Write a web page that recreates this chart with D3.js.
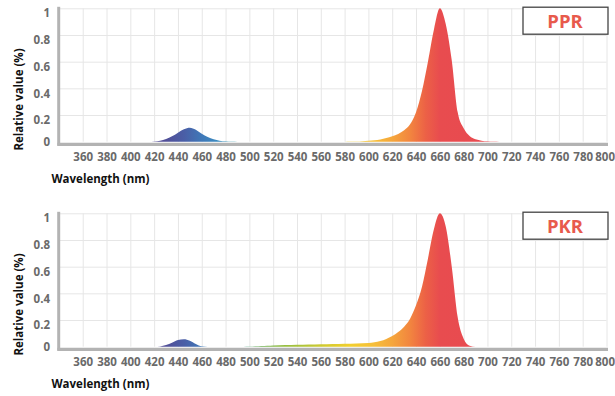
<!DOCTYPE html>
<html>
<head>
<meta charset="utf-8">
<script src="https://cdn.jsdelivr.net/npm/d3@7"></script>
<style>
  body { margin: 0; background: #fff; }
  svg { display: block; font-family: "Open Sans", sans-serif; }
</style>
</head>
<body>
<div id="chart"></div>
<script>
// wavelength ticks and relative value ticks
var xTicks = [360, 380, 400, 420, 440, 460, 480, 500, 520, 540, 560, 580, 600, 620, 640, 660, 680, 700, 720, 740, 760, 780, 800];
var yTicks = [0, 0.2, 0.4, 0.6, 0.8, 1];

// PPR spectrum (nm, relative value)
var pprWave  = [340, 415, 420, 425, 430, 435, 440, 445, 450, 455, 460, 465, 470, 475, 480, 485, 490, 580, 585, 590, 595, 600, 605, 610, 615, 620, 625, 630, 635, 640, 645, 650, 655, 660, 665, 670, 675, 680, 685, 690, 695, 700, 705, 710, 800];
var pprValue = [0, 0, 0.002, 0.008, 0.02, 0.04, 0.068, 0.094, 0.105, 0.09, 0.06, 0.035, 0.018, 0.008, 0.003, 0.001, 0, 0, 0.001, 0.002, 0.004, 0.007, 0.011, 0.017, 0.027, 0.04, 0.058, 0.085, 0.13, 0.22, 0.38, 0.6, 0.84, 1.0, 0.88, 0.61, 0.22, 0.1, 0.042, 0.018, 0.008, 0.003, 0.001, 0, 0];

// PKR spectrum (nm, relative value)
var pkrWave  = [340, 420, 425, 430, 435, 440, 445, 450, 455, 460, 465, 495, 500, 505, 510, 515, 520, 530, 540, 550, 560, 570, 580, 590, 600, 605, 610, 615, 620, 625, 630, 635, 640, 645, 650, 655, 660, 665, 670, 675, 680, 685, 690, 800];
var pkrValue = [0, 0, 0.002, 0.012, 0.03, 0.05, 0.056, 0.045, 0.02, 0.003, 0, 0, 0.001, 0.003, 0.005, 0.007, 0.009, 0.012, 0.014, 0.016, 0.018, 0.02, 0.022, 0.024, 0.028, 0.033, 0.042, 0.058, 0.08, 0.11, 0.15, 0.21, 0.31, 0.45, 0.66, 0.88, 1.0, 0.9, 0.6, 0.22, 0.06, 0.008, 0, 0];

// spectrum colours along the wavelength axis
var stopWave  = [400, 430, 445, 460, 475, 490, 505, 525, 545, 565, 585, 605, 620, 635, 648, 660, 700];
var stopColor = ["#5b4a92", "#514f98", "#4a5ea6", "#3f78b8", "#3a8cc0", "#3d9fa8", "#6aae62", "#8fbc45", "#b0c43a", "#d6cb30", "#f2cf2e", "#f6be3a", "#f5a63c", "#f2853f", "#ec6146", "#e84c4f", "#e84a50"];

var panels = [
  {name: "PPR", wave: pprWave, value: pprValue, top: 0},
  {name: "PKR", wave: pkrWave, value: pkrValue, top: 205}
];

var W = 615, H = 396;
var svg = d3.select("#chart").append("svg")
    .attr("width", W)
    .attr("height", H);

var x = d3.scaleLinear().domain([340, 800]).range([58.9, 606.5]);
var y = d3.scaleLinear().domain([0, 1]).range([141.7, 8.3]);

var defs = svg.append("defs");
var grad = defs.append("linearGradient")
    .attr("id", "spec")
    .attr("gradientUnits", "userSpaceOnUse")
    .attr("x1", x(340)).attr("x2", x(800))
    .attr("y1", 0).attr("y2", 0);
stopWave.forEach(function(w, i) {
  grad.append("stop")
    .attr("offset", (w - 340) / (800 - 340))
    .attr("stop-color", stopColor[i]);
});

panels.forEach(function(p) {
  var g = svg.append("g").attr("transform", "translate(0," + p.top + ")");

  // grid
  g.append("g")
    .attr("transform", "translate(0," + y(0) + ")")
    .call(d3.axisBottom(x).tickValues(xTicks).tickSize(-(y(0) - y(1))).tickFormat(""))
    .call(function(a) {
      a.select(".domain").remove();
      a.selectAll("line").attr("stroke", "#e6e6e6");
    });
  g.append("g")
    .attr("transform", "translate(" + x(340) + ",0)")
    .call(d3.axisLeft(y).tickValues(yTicks.slice(1)).tickSize(-(x(800) - x(340))).tickFormat(""))
    .call(function(a) {
      a.select(".domain").remove();
      a.selectAll("line").attr("stroke", "#e6e6e6");
    });

  // spectrum area
  var pts = p.wave.map(function(w, i) { return [w, p.value[i]]; });
  var area = d3.area()
    .curve(d3.curveMonotoneX)
    .x(function(d) { return x(d[0]); })
    .y0(y(0))
    .y1(function(d) { return y(d[1]); });
  g.append("path")
    .datum(pts)
    .attr("d", area)
    .attr("fill", "url(#spec)");

  // axis lines
  g.append("line")
    .attr("x1", x(340) - 1.5).attr("x2", x(800) + 1.5)
    .attr("y1", y(0) + 2.6).attr("y2", y(0) + 2.6)
    .attr("stroke", "#b3b3b3").attr("stroke-width", 3.2);
  g.append("line")
    .attr("x1", x(340) - 0.2).attr("x2", x(340) - 0.2)
    .attr("y1", y(1) - 1.5).attr("y2", y(0) + 4)
    .attr("stroke", "#b3b3b3").attr("stroke-width", 3);

  // tick labels
  g.append("g")
    .attr("transform", "translate(0," + (y(0) + 15) + ")")
    .call(d3.axisBottom(x).tickValues(xTicks).tickSize(0).tickPadding(0))
    .call(function(a) {
      a.select(".domain").remove();
      a.selectAll("text")
        .attr("dy", "0.35em")
        .attr("y", 0)
        .attr("fill", "#6a6a6a")
        .style("font-family", "'Open Sans', sans-serif")
        .style("font-size", "11.5px")
        .style("font-weight", "bold");
      // last label sits against the right edge
      a.selectAll(".tick text")
        .filter(function(d) { return d === 800; })
        .attr("text-anchor", "end")
        .attr("x", 614.5 - x(800));
    });
  g.append("g")
    .attr("transform", "translate(50,0)")
    .call(d3.axisLeft(y).tickValues(yTicks).tickSize(0).tickPadding(0).tickFormat(d3.format("~g")))
    .call(function(a) {
      a.select(".domain").remove();
      a.selectAll(".tick text")
        .attr("x", 0)
        .attr("y", function(d) { return d === 0 ? 0 : 5; })
        .attr("fill", "#6a6a6a")
        .style("font-family", "'Open Sans', sans-serif")
        .style("font-size", "11.5px")
        .style("font-weight", "bold");
    });

  // titles
  g.append("text")
    .attr("x", 51.5).attr("y", 183)
    .attr("fill", "#111")
    .style("font-size", "11.5px")
    .style("font-weight", "bold")
    .text("Wavelength (nm)");
  g.append("text")
    .attr("transform", "translate(22.5,99.5) rotate(-90)")
    .attr("text-anchor", "middle")
    .attr("fill", "#111")
    .style("font-size", "11.5px")
    .style("font-weight", "bold")
    .text("Relative value (%)");

  // name box
  g.append("rect")
    .attr("x", 523).attr("y", 7.2)
    .attr("width", 85).attr("height", 27)
    .attr("fill", "#fff")
    .attr("stroke", "#444").attr("stroke-width", 1.3);
  g.append("text")
    .attr("x", 565).attr("y", 27.5)
    .attr("text-anchor", "middle")
    .attr("fill", "#e85a4c")
    .style("font-size", "18.5px")
    .style("font-weight", "bold")
    .text(p.name);
});
</script>
</body>
</html>
